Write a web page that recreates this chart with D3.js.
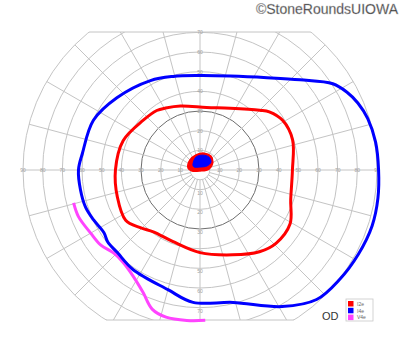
<!DOCTYPE html>
<html>
<head>
<meta charset="utf-8">
<script src="https://cdn.jsdelivr.net/npm/d3@7"></script>
<style>
body { margin: 0; background: #fff; }
svg { display: block; }
</style>
</head>
<body>
<svg class="chart"></svg>
<script>
// isopters as [angle in degrees, eccentricity in degrees]
const isoI2e = [[0,47],[18,49.5],[31,49],[40,46],[45,43],[64,35],[84,32],[107,34],[119,36],[126,37.4],[139,38.4],[159,41.8],[180,43],[198,44.2],[214,45.6],[224,42.2],[233,39.4],[249,38.9],[270,42],[291,46.2],[306,51.4],[316,53.7],[329,53.4],[342,48.5]]
const isoI4e = [[0,90.8],[9,90.4],[17,89.2],[23,87.2],[28,84.5],[33,80.5],[42,68.5],[54,58],[72,50.2],[90,48],[106,49.5],[119,52],[139,56],[155,59.8],[172,60.4],[180,61.8],[189.5,61.6],[198,61.2],[205,59.8],[213,58.3],[218,59.5],[225,59.4],[236,61],[255,63],[267,67.4],[284,69.4],[301,81],[312,88.6],[322,90.2],[332,91.2],[342,92],[351,91.6]]
const isoV4e = [[194.6,66.4],[201,66.2],[210,64.2],[217,63.3],[224,60.9],[230,61.1],[238,63.9],[245,68.6],[251,74.8],[257,76.8],[265,76.8],[272,76.5]]
const blobI2e = [[6,4.6],[32,7.7],[52,9],[77,8.8],[105,7.9],[135,7.2],[170,6.2],[187,4.1],[270,0.5]]
const blobI4e = [[145,4.4],[107,6.9],[79,7.7],[55,8],[36,6.9],[30,4.1],[90,1.5],[153,3.4]]

const rings = [5,10,20,30,40,50,60,70,80,90]
const spokes = d3.range(0, 360, 15)
const hLabels = [10,20,30,40,50,60,70,80,90]
const vLabels = [10,20,30,40,50,60,70]
const legendNames = ["I2e","I4e","V4e"]
const legendColors = ["#ff0000","#0000ff","#ff44ff"]

const width = 400, height = 352
const cx = 200, cy = 170
const topY = 32, bottomY = 320

const r = d3.scaleLinear().domain([0, 90]).range([0, 177])

const svg = d3.select(".chart")
.attr("width", width)
.attr("height", height)

function pt(d) {
  const a = d[0] * Math.PI / 180
  return [cx + r(d[1]) * Math.cos(a), cy - r(d[1]) * Math.sin(a)]
}

// grid clipped to the flat top and bottom
svg.append("clipPath")
.attr("id", "gridClip")
.append("rect")
.attr("x", 0)
.attr("y", topY)
.attr("width", width)
.attr("height", bottomY - topY)

const grid = svg.append("g")
.attr("clip-path", "url(#gridClip)")

grid.selectAll("circle")
.data(rings)
.enter()
.append("circle")
.attr("cx", cx)
.attr("cy", cy)
.attr("r", (d) => r(d))
.attr("fill", "none")
.style("stroke", (d) => d == 30 ? "#6e6e6e" : "#c4c4c4")
.style("stroke-width", "1px")

grid.selectAll("line")
.data(spokes)
.enter()
.append("line")
.attr("x1", (d) => pt([d, 5])[0])
.attr("y1", (d) => pt([d, 5])[1])
.attr("x2", (d) => pt([d, 90])[0])
.attr("y2", (d) => pt([d, 90])[1])
.style("stroke", "#c4c4c4")
.style("stroke-width", "1px")

// flat edges
const edges = [topY, bottomY]
svg.append("g").selectAll("line")
.data(edges)
.enter()
.append("line")
.attr("x1", (d) => cx - Math.sqrt(r(90) * r(90) - (d - cy) * (d - cy)))
.attr("x2", (d) => cx + Math.sqrt(r(90) * r(90) - (d - cy) * (d - cy)))
.attr("y1", (d) => d)
.attr("y2", (d) => d)
.style("stroke", "#c4c4c4")
.style("stroke-width", "1px")

// ring labels
const labels = svg.append("g")
.style("font-family", "Liberation Sans, Arial, sans-serif")
.style("font-size", "5px")
.style("fill", "#a0a0a0")
.attr("text-anchor", "middle")

hLabels.forEach((d) => {
  labels.append("text").attr("x", cx - r(d)).attr("y", cy + 1.5).text(d)
  labels.append("text").attr("x", cx + r(d)).attr("y", cy + 1.5).text(d)
})
vLabels.forEach((d) => {
  labels.append("text").attr("x", cx).attr("y", cy - r(d) + 2).text(d)
  labels.append("text").attr("x", cx).attr("y", cy + r(d) + 5).text(d)
})

// isopters
const closedLine = d3.line()
.x((d) => pt(d)[0])
.y((d) => pt(d)[1])
.curve(d3.curveCatmullRomClosed)

const openLine = d3.line()
.x((d) => pt(d)[0])
.y((d) => pt(d)[1])
.curve(d3.curveCatmullRom)

svg.append("path")
.attr("d", openLine(isoV4e))
.attr("fill", "none")
.style("stroke", legendColors[2])
.style("stroke-width", "3px")

svg.append("path")
.attr("d", closedLine(isoI4e))
.attr("fill", "none")
.style("stroke", legendColors[1])
.style("stroke-width", "3px")

svg.append("path")
.attr("d", closedLine(isoI2e))
.attr("fill", "none")
.style("stroke", legendColors[0])
.style("stroke-width", "3px")

svg.append("path")
.attr("d", closedLine(blobI2e))
.attr("fill", legendColors[0])
.style("stroke", legendColors[0])
.style("stroke-width", "1.5px")

svg.append("path")
.attr("d", closedLine(blobI4e))
.attr("fill", legendColors[1])
.style("stroke", legendColors[1])
.style("stroke-width", "1px")

// legend
const legend = svg.append("g")
.attr("transform", "translate(346, 299)")

legend.append("rect")
.attr("width", 27)
.attr("height", 22)
.attr("fill", "#fff")
.style("stroke", "#c8c8c8")
.style("stroke-width", "0.8px")

legend.selectAll(".swatch")
.data(legendNames)
.enter()
.append("rect")
.attr("class", "swatch")
.attr("x", 2)
.attr("y", (d, i) => 2 + i * 6.8)
.attr("width", 5.5)
.attr("height", 5.5)
.attr("fill", (d, i) => legendColors[i])

legend.selectAll("text")
.data(legendNames)
.enter()
.append("text")
.attr("x", 11)
.attr("y", (d, i) => 6.8 + i * 6.8)
.style("font-family", "Liberation Sans, Arial, sans-serif")
.style("font-size", "5px")
.style("fill", "#666")
.text((d) => d)

svg.append("text")
.attr("x", 322)
.attr("y", 320)
.style("font-family", "Liberation Sans, Arial, sans-serif")
.style("font-size", "11px")
.style("fill", "#333")
.text("OD")

svg.append("text")
.attr("x", 398)
.attr("y", 14)
.attr("text-anchor", "end")
.style("font-family", "Liberation Sans, Arial, sans-serif")
.style("font-size", "14px")
.style("fill", "#333")
.style("stroke", "#bbb")
.style("stroke-width", "0.4px")
.text("\u00a9StoneRoundsUIOWA")
</script>
</body>
</html>
